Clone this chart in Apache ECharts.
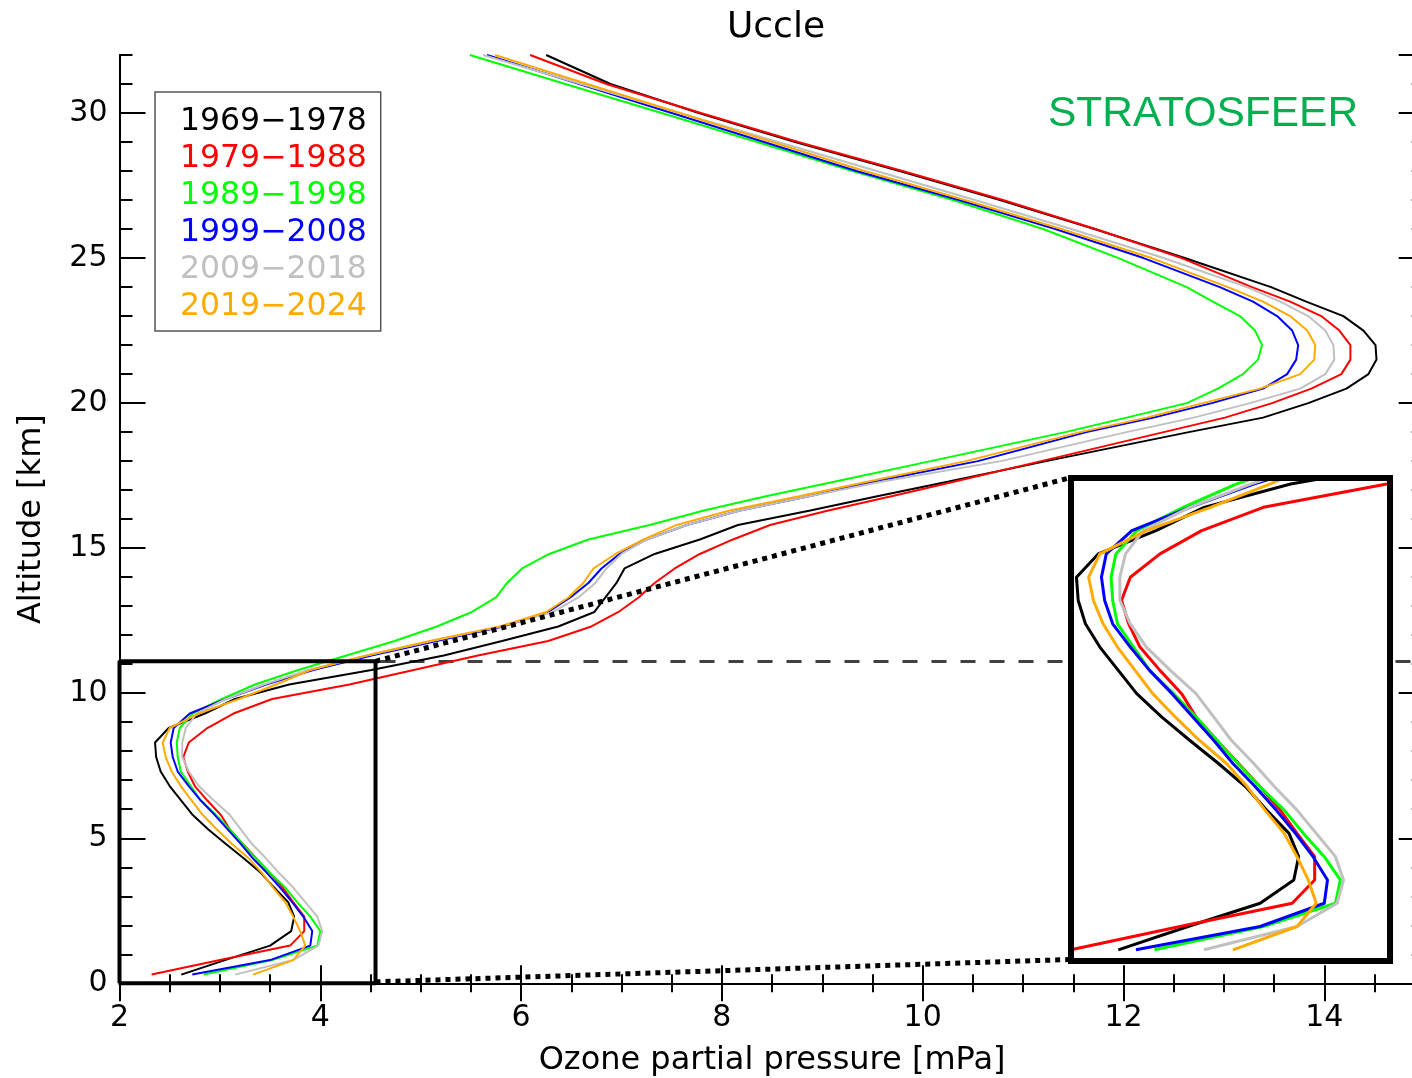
<!DOCTYPE html>
<html><head><meta charset="utf-8">
<script src="https://cdn.jsdelivr.net/npm/echarts@6/dist/echarts.min.js"></script>
<style>html,body{margin:0;padding:0;background:#fff}#c{width:1412px;height:1078px}</style>
</head><body><div id="c"></div>
<script>
// ---- data ----
const altitude = [0.3,0.8,1.3,1.8,2.3,2.8,3.3,3.8,4.3,4.8,5.3,5.8,6.3,6.8,7.3,7.8,8.3,8.8,9.3,9.8,10.3,
  10.8,11.3,11.8,12.3,12.8,13.3,13.8,14.3,14.8,15.3,15.8,16.3,16.8,17.3,18,
  19,19.5,20,20.5,21,21.5,22,22.5,23,23.5,24,25,26,27,28,29,30,31,32];
const p1969_1978 = [2.615,3.05,3.5,3.71,3.74,3.68,3.54,3.41,3.24,3.06,2.885,2.73,2.615,2.5,2.41,2.365,2.354,2.49,2.85,3.15,3.69,
  4.51,5.23,5.81,6.37,6.73,6.84,6.95,7.03,7.33,7.78,8.16,8.88,9.56,10.26,11.23,
  12.65,13.39,13.84,14.22,14.44,14.52,14.51,14.39,14.19,13.82,13.47,12.61,11.71,10.77,9.77,8.73,7.77,6.89,6.25];
const p1979_1988 = [2.32,3.0,3.70,3.84,3.84,3.73,3.625,3.5,3.365,3.23,3.10,3.01,2.875,2.75,2.68,2.635,2.69,2.875,3.135,3.52,4.29,
  4.93,5.57,6.27,6.70,6.97,7.17,7.33,7.53,7.78,8.11,8.48,9.06,9.70,10.32,11.18,
  12.40,13.01,13.48,13.87,14.17,14.26,14.26,14.15,13.97,13.66,13.28,12.58,11.72,10.80,9.80,8.76,7.79,6.85,6.09];
const p1989_1998 = [2.84,3.52,3.97,4.0,3.9,3.77,3.65,3.5,3.36,3.23,3.1,2.96,2.81,2.71,2.61,2.58,2.57,2.60,2.73,3.02,3.35,
  3.78,4.26,4.74,5.16,5.51,5.75,5.86,6.01,6.28,6.67,7.28,7.82,8.45,9.13,10.08,
  11.42,12.03,12.63,12.94,13.19,13.34,13.38,13.31,13.16,12.89,12.63,11.95,11.20,10.30,9.30,8.35,7.40,6.44,5.49];
const p1999_2008 = [2.725,3.5,3.9,3.92,3.83,3.72,3.6,3.47,3.33,3.21,3.08,2.95,2.81,2.69,2.58,2.53,2.51,2.54,2.70,3.06,3.46,
  3.93,4.51,5.16,5.82,6.27,6.49,6.67,6.80,6.98,7.25,7.65,8.18,8.88,9.52,10.55,
  11.63,12.30,12.88,13.39,13.63,13.72,13.74,13.68,13.53,13.29,12.96,12.20,11.32,10.36,9.34,8.42,7.50,6.58,5.66];
const p2009_2018 = [3.15,3.73,3.98,4.02,3.97,3.85,3.73,3.59,3.46,3.32,3.21,3.10,2.94,2.79,2.69,2.625,2.625,2.66,2.77,3.06,3.44,
  3.88,4.46,5.11,5.79,6.32,6.57,6.74,6.85,7.00,7.25,7.65,8.18,8.88,9.60,10.78,
  12.03,12.70,13.26,13.76,14.01,14.10,14.09,14.01,13.84,13.56,13.23,12.40,11.48,10.52,9.54,8.56,7.58,6.60,5.62];
const p2019_2024 = [3.33,3.73,3.85,3.80,3.73,3.65,3.53,3.42,3.29,3.12,2.97,2.83,2.72,2.61,2.52,2.46,2.43,2.50,2.79,3.19,3.56,
  3.90,4.46,5.09,5.79,6.25,6.47,6.62,6.72,6.94,7.22,7.55,8.08,8.78,9.46,10.43,
  11.57,12.23,12.79,13.36,13.76,13.90,13.91,13.83,13.66,13.39,13.04,12.28,11.38,10.42,9.42,8.50,7.58,6.66,5.74];

const seriesNames = ['1969\u22121978','1979\u22121988','1989\u22121998','1999\u22122008','2009\u22122018','2019\u22122024'];
const seriesValues = [p1969_1978,p1979_1988,p1989_1998,p1999_2008,p2009_2018,p2019_2024];
const seriesColors = ['#000000','#ff0000','#00ff00','#0000ff','#c0c0c0','#ffaa00'];

// zoom box (main-plot data units), inset range, inset ticks
const zoomBoxX = [2, 4.55];
const zoomBoxY = [0, 11.1];
const tropopauseKm = 11.1;
const insetCornerX = 11.46;
const insetCornerY = [0.82, 17.42];
const insetRangeX = [2.32, 4.31];
const insetRangeY = [0.06, 10.43];
const insetMajorTicks = [4];
const insetMinorTicks = [2.5, 3, 3.5];

// ---- layout ----
const FONT = '"DejaVu Sans", sans-serif';
const MAIN = {left: 119.5, top: 55, right: -12.7, height: 928.3};
const INSET = {left: 1071, top: 478, width: 319, height: 483};

const chart = echarts.init(document.getElementById('c'), null, {renderer: 'canvas'});

function mainX(pos, major, extra) {
  return Object.assign({
    type: 'value', gridIndex: 0, position: pos, min: 2, max: 15,
    interval: major ? 2 : 0.5,
    axisLine: {show: major, lineStyle: {color: '#000', width: 2}},
    axisTick: {show: true, inside: true, length: major ? 18 : 9, lineStyle: {color: '#000', width: 2}},
    axisLabel: {show: false}, splitLine: {show: false}
  }, extra || {});
}
function mainY(pos, major, extra) {
  return Object.assign({
    type: 'value', gridIndex: 0, position: pos, min: 0, max: 32,
    interval: major ? 5 : 1,
    axisLine: {show: major, lineStyle: {color: '#000', width: 2}},
    axisTick: {show: true, inside: true, length: major ? 26 : 13, lineStyle: {color: '#000', width: 2}},
    axisLabel: {show: false}, splitLine: {show: false}
  }, extra || {});
}

const xAxes = [
  mainX('bottom', true, {
    axisLabel: {show: true, margin: 20, fontSize: 30, color: '#000', fontFamily: FONT, showMaxLabel: false},
    name: 'Ozone partial pressure [mPa]', nameLocation: 'middle', nameGap: 61,
    nameTextStyle: {fontSize: 32, color: '#000', fontFamily: FONT, letterSpacing: 1.2}
  }),
  mainX('bottom', false),
  mainX('top', true),
  mainX('top', false),
  {type: 'value', gridIndex: 1, position: 'bottom', min: insetRangeX[0], max: insetRangeX[1],
   axisLine: {show: false}, axisLabel: {show: false}, splitLine: {show: false},
   axisTick: {show: true, inside: true, length: 28, customValues: insetMajorTicks, lineStyle: {color: '#000', width: 2.5}}},
  {type: 'value', gridIndex: 1, position: 'bottom', min: insetRangeX[0], max: insetRangeX[1],
   axisLine: {show: false}, axisLabel: {show: false}, splitLine: {show: false},
   axisTick: {show: true, inside: true, length: 13, customValues: insetMinorTicks, lineStyle: {color: '#000', width: 2.5}}}
];
const yAxes = [
  mainY('left', true, {
    axisLabel: {show: true, margin: 12, fontSize: 30, color: '#000', fontFamily: FONT, showMaxLabel: false},
    name: 'Altitude [km]', nameLocation: 'middle', nameGap: 72, nameRotate: 90,
    nameTextStyle: {fontSize: 32, color: '#000', fontFamily: FONT, letterSpacing: 1}
  }),
  mainY('left', false),
  mainY('right', true),
  mainY('right', false),
  {type: 'value', gridIndex: 1, min: insetRangeY[0], max: insetRangeY[1],
   axisLine: {show: false}, axisLabel: {show: false}, axisTick: {show: false}, splitLine: {show: false}}
];

const series = [];
seriesNames.forEach((name, i) => {
  const pts = altitude.map((a, k) => [seriesValues[i][k], a]);
  series.push({type: 'line', name, data: pts, xAxisIndex: 0, yAxisIndex: 0,
    showSymbol: false, symbol: 'none', silent: true, z: 2,
    lineStyle: {color: seriesColors[i], width: 2}, itemStyle: {color: seriesColors[i]}});
});
seriesNames.forEach((name, i) => {
  const pts = altitude.map((a, k) => [seriesValues[i][k], a]);
  series.push({type: 'line', name, data: pts, xAxisIndex: 4, yAxisIndex: 4,
    showSymbol: false, symbol: 'none', silent: true, z: 6, clip: true,
    lineStyle: {color: seriesColors[i], width: 3}, itemStyle: {color: seriesColors[i]}});
});
// zoom box outline + tropopause dashed line
series.push({type: 'line', name: 'box', data: [
    [zoomBoxX[0], zoomBoxY[0]], [zoomBoxX[1], zoomBoxY[0]], [zoomBoxX[1], zoomBoxY[1]],
    [zoomBoxX[0], zoomBoxY[1]], [zoomBoxX[0], zoomBoxY[0]]],
  xAxisIndex: 0, yAxisIndex: 0, clip: false, showSymbol: false, symbol: 'none', silent: true, z: 4,
  lineStyle: {color: '#000', width: 4},
  markLine: {silent: true, symbol: 'none', label: {show: false}, z: 1,
    lineStyle: {color: '#404040', width: 3, type: [15, 14]},
    data: [{yAxis: tropopauseKm}]}
});
// connectors
[[zoomBoxY[1], insetCornerY[1]], [zoomBoxY[0] + 0.05, insetCornerY[0]]].forEach(([y0, y1]) => {
  series.push({type: 'line', name: 'conn', data: [[zoomBoxX[1], y0], [insetCornerX, y1]],
    xAxisIndex: 0, yAxisIndex: 0, clip: false, showSymbol: false, symbol: 'none', silent: true, z: 4,
    lineStyle: {color: '#000', width: 5, type: [5, 5], cap: 'butt'}});
});

chart.setOption({
  backgroundColor: '#fff',
  animation: false,
  title: {text: 'Uccle', left: 771, textAlign: 'center', top: 5,
    textStyle: {fontSize: 36, fontWeight: 'normal', color: '#000', fontFamily: FONT, letterSpacing: 1.5}},
  legend: {
    orient: 'vertical', left: 155, top: 92, selectedMode: false,
    padding: [11, 14, 6, 20], itemGap: 0, itemWidth: 0, itemHeight: 0,
    borderColor: '#555', borderWidth: 1.5, backgroundColor: '#fff',
    textStyle: {fontSize: 31.5, lineHeight: 37, fontFamily: FONT},
    data: seriesNames.map((n, i) => ({name: n, icon: 'rect', textStyle: {color: seriesColors[i]}}))
  },
  grid: [
    Object.assign({containLabel: false, outerBoundsMode: 'none'}, MAIN),
    Object.assign({containLabel: false, outerBoundsMode: 'none', show: true, backgroundColor: '#fff', borderWidth: 0, z: 3}, INSET)
  ],
  xAxis: xAxes,
  yAxis: yAxes,
  series,
  graphic: [
    {type: 'text', x: 1048, y: 114, z: 10,
     style: {text: 'STRATOSFEER', fill: '#00b050', fontSize: 42.5, fontFamily: '"Liberation Sans", Arial, sans-serif', verticalAlign: 'middle'}},
    {type: 'rect', z: 20, shape: {x: INSET.left, y: INSET.top, width: INSET.width, height: INSET.height},
     style: {fill: 'none', stroke: '#000', lineWidth: 6}}
  ]
});
</script>
</body></html>
